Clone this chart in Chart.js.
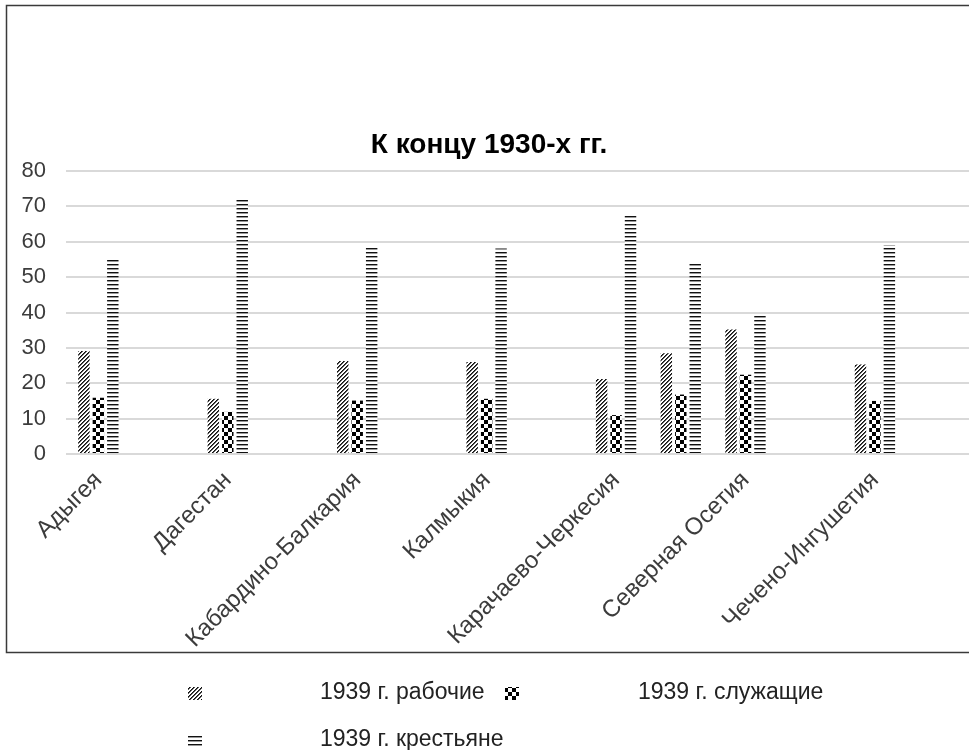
<!DOCTYPE html>
<html>
<head>
<meta charset="utf-8">
<script src="https://cdn.jsdelivr.net/npm/chart.js@4/dist/chart.umd.min.js"></script>
<style>
  html, body { margin: 0; padding: 0; background: #fff; overflow: hidden; }
  #wrap { width: 976px; height: 750px; }
</style>
</head>
<body>
<div id="wrap"><canvas id="c" width="976" height="750"></canvas></div>
<script>
// Regions of the North Caucasus; blank slots keep the original row spacing
const categories = [
  'Адыгея', '', 'Дагестан', '', 'Кабардино-Балкария', '', 'Калмыкия', '',
  'Карачаево-Черкесия', '', 'Северная Осетия', '', 'Чечено-Ингушетия', ''
];

// Social composition, 1939 (percent)
const workers   = [29.1, null, 15.6, null, 26.3, null, 26.0, null, 21.2, 28.5, 35.2, null, 25.3, null];
const employees = [15.9, null, 11.9, null, 15.1, null, 15.6, null, 11.0, 16.8, 22.4, null, 15.0, null];
const peasants  = [55.0, null, 71.8, null, 58.2, null, 58.1, null, 67.5, 53.8, 39.1, null, 59.0, null];

const seriesNames = ['1939 г. рабочие', '1939 г. служащие', '1939 г. крестьяне'];
const chartTitle = 'К концу 1930-х гг.';

const FONT = '"Liberation Sans", Arial, sans-serif';

// Fill patterns in the style of a monochrome office chart
function makePattern(kind) {
  const t = document.createElement('canvas');
  const g = t.getContext('2d');
  if (kind === 'diag') {
    t.width = 4; t.height = 4;
    g.fillStyle = '#fff'; g.fillRect(0, 0, 4, 4);
    for (let y = 0; y < 4; y++) for (let x = 0; x < 4; x++) {
      const k = (x + y) % 4;
      if (k === 0) { g.fillStyle = '#111'; g.fillRect(x, y, 1, 1); }
      else if (k === 1) { g.fillStyle = '#555'; g.fillRect(x, y, 1, 1); }
    }
  } else if (kind === 'checker') {
    t.width = 8; t.height = 8;
    g.fillStyle = '#fff'; g.fillRect(0, 0, 8, 8);
    g.fillStyle = '#000';
    g.fillRect(0, 0, 4, 4); g.fillRect(4, 4, 4, 4);
  } else {
    t.width = 4; t.height = 4;
    g.fillStyle = '#fff'; g.fillRect(0, 0, 4, 4);
    g.fillStyle = '#111'; g.fillRect(0, 0, 4, 1);
    g.fillStyle = '#999'; g.fillRect(0, 1, 4, 1);
  }
  return g.createPattern(t, 'repeat');
}

const fills = [makePattern('diag'), makePattern('checker'), makePattern('lines')];

// Outer frame of the chart object
const framePlugin = {
  id: 'frame',
  beforeDraw(chart) {
    const ctx = chart.ctx;
    ctx.save();
    ctx.fillStyle = '#fff';
    ctx.fillRect(0, 0, chart.width, chart.height);
    ctx.strokeStyle = '#3a3a3a';
    ctx.lineWidth = 1.5;
    ctx.strokeRect(6.5, 5.5, 967, 647);
    ctx.restore();
  }
};

// Legend laid out below the frame
const legendPlugin = {
  id: 'bottomLegend',
  afterDraw(chart) {
    const ctx = chart.ctx;
    const slots = [
      { ix: 188, tx: 320, y: 693 },
      { ix: 505, tx: 638, y: 693 },
      { ix: 188, tx: 320, y: 740 }
    ];
    ctx.save();
    ctx.font = '23px ' + FONT;
    ctx.textBaseline = 'middle';
    chart.data.datasets.forEach((ds, i) => {
      const s = slots[i];
      ctx.fillStyle = ds.backgroundColor;
      ctx.fillRect(s.ix, s.y - 6, 14, 13);
      ctx.fillStyle = '#222';
      ctx.fillText(ds.label, s.tx, s.y);
    });
    ctx.restore();
  }
};

const tickColor = '#3c3c3c';

new Chart(document.getElementById('c'), {
  type: 'bar',
  data: {
    labels: categories,
    datasets: [
      { label: seriesNames[0], data: workers,   backgroundColor: fills[0] },
      { label: seriesNames[1], data: employees, backgroundColor: fills[1] },
      { label: seriesNames[2], data: peasants,  backgroundColor: fills[2] }
    ]
  },
  options: {
    responsive: false,
    animation: false,
    events: [],
    datasets: {
      bar: { categoryPercentage: 0.67, barPercentage: 0.79, borderWidth: 0 }
    },
    layout: { padding: { left: 6, right: 4, top: 5, bottom: 98 } },
    plugins: {
      legend: { display: false },
      tooltip: { enabled: false },
      title: {
        display: true,
        text: chartTitle,
        color: '#000',
        font: { family: FONT, size: 28, weight: 'bold', lineHeight: 1.0 },
        padding: { top: 126, bottom: 12 }
      }
    },
    scales: {
      x: {
        grid: { display: false },
        border: { display: false },
        ticks: {
          autoSkip: false,
          maxRotation: 45,
          minRotation: 45,
          padding: 6,
          color: tickColor,
          font: { family: FONT, size: 24, lineHeight: 1.0 }
        },
        afterFit(scale) { scale.height = 198; }
      },
      y: {
        min: 0,
        max: 80,
        grid: { color: '#d9d9d9', lineWidth: 2, drawTicks: false },
        border: { display: false },
        ticks: {
          stepSize: 10,
          padding: 20,
          color: tickColor,
          font: { family: FONT, size: 22, lineHeight: 1.0 }
        },
        afterFit(scale) { scale.width = 60; }
      }
    }
  },
  plugins: [framePlugin, legendPlugin]
});
</script>
</body>
</html>
